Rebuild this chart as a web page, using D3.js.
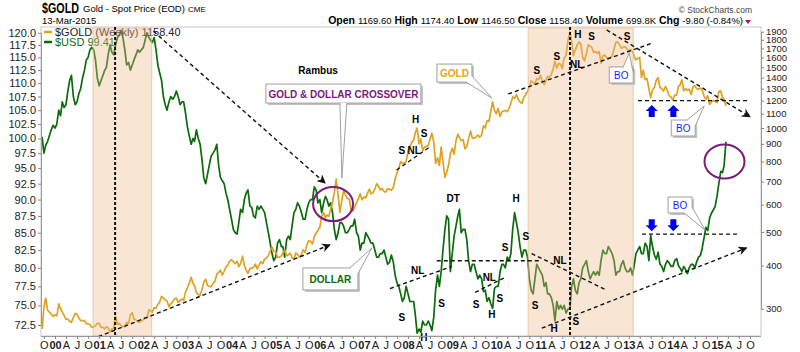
<!DOCTYPE html>
<html><head><meta charset="utf-8">
<script src="https://cdn.jsdelivr.net/npm/d3@7"></script>
<style>
body{margin:0;background:#fff;}
svg{display:block;font-family:"Liberation Sans",Arial,sans-serif;}
</style></head><body>
<svg id="chart" width="800" height="352"></svg>
<script>
// semi-monthly closes (1st & 16th), starting 16-Sep-1999
const usd = [
  100.3, 97.5, 98.8, 99.5, 100.5, 101.5, 102.3,
  101.8, 102.5, 105.0, 104.0, 106.5, 105.5, 106.0, 108.5, 110.5, 111.5, 107.5, 106.0, 106.5, 108.0, 109.0, 111.0, 112.5, 114.5, 115.0, 116.5, 117.0, 116.5, 114.5, 111.0,
  109.5, 110.5, 111.5, 112.5, 113.0, 115.5, 117.5, 116.0, 115.5, 117.5, 119.0, 119.5, 120.5, 119.0, 116.5, 113.5, 114.0, 112.5, 113.5, 114.5, 115.5, 116.5, 116.0, 116.5,
  117.0, 118.5, 120.0, 119.0, 118.5, 118.0, 119.0, 116.5, 113.5, 112.0, 110.5, 107.5, 106.0, 105.0, 106.5, 107.5, 107.0, 107.5, 108.5, 107.5, 106.0, 106.5, 106.5, 104.5,
  102.0, 100.5, 99.0, 100.0, 99.5, 101.5, 100.0, 99.0, 96.5, 93.5, 92.5, 94.0, 95.5, 97.0, 97.5, 98.0, 99.0, 95.5, 93.5, 93.0, 92.5, 91.0, 90.0, 88.5,
  87.0, 85.5, 85.0, 84.8, 86.5, 88.5, 88.0, 90.0, 91.0, 91.5, 89.0, 88.8, 87.5, 87.2, 89.0, 88.5, 89.0, 88.5, 88.0, 86.5, 85.0, 83.5, 82.0, 81.0,
  81.5, 83.5, 84.0, 83.0, 83.0, 81.5, 84.0, 84.5, 84.0, 86.0, 88.0, 88.5, 89.5, 89.0, 88.0, 87.0, 87.0, 88.5, 89.5, 90.0, 90.0, 92.0, 91.5, 89.5,
  90.0, 88.0, 89.5, 90.5, 90.0, 89.0, 89.5, 88.0, 85.5, 84.0, 85.0, 86.5, 86.5, 86.0, 85.0, 85.0, 85.5, 86.0, 86.0, 87.0, 85.0, 84.5, 82.5, 83.5,
  83.5, 85.0, 84.5, 84.0, 83.5, 83.5, 82.5, 81.5, 81.5, 82.0, 82.0, 82.5, 81.5, 80.5, 80.8, 81.8, 80.8, 79.0, 78.0, 77.5, 76.5, 75.5, 76.0, 77.5,
  76.5, 75.5, 75.5, 75.5, 73.8, 71.5, 72.0, 71.6, 73.0, 72.5, 72.5, 73.0, 72.5, 71.8, 73.5, 77.0, 79.0, 77.5, 79.5, 82.5, 85.5, 87.5, 87.0, 79.5,
  82.0, 84.5, 86.0, 87.5, 88.5, 85.0, 85.5, 85.5, 84.0, 81.0, 79.5, 80.5, 80.5, 79.5, 78.5, 79.0, 78.5, 76.8, 77.0, 75.5, 76.0, 75.2, 74.6, 77.2,
  77.5, 77.5, 79.5, 80.5, 80.5, 80.0, 81.5, 81.0, 82.0, 85.5, 88.0, 86.5, 85.0, 83.0, 81.5, 82.5, 82.5, 81.5, 78.5, 77.0, 76.5, 78.5, 80.5, 80.0,
  79.5, 79.0, 77.5, 78.0, 76.5, 76.5, 76.0, 75.0, 73.0, 75.5, 74.5, 75.0, 74.5, 75.0, 74.0, 74.5, 74.5, 77.5, 78.5, 77.0, 76.5, 78.0, 78.5, 80.0,
  80.5, 81.0, 79.5, 78.5, 79.0, 79.5, 79.0, 79.5, 79.0, 81.0, 82.5, 82.0, 82.0, 83.0, 82.5, 82.0, 81.0, 79.0, 79.5, 79.5, 80.5, 81.0, 80.0, 79.5,
  79.5, 80.0, 79.0, 80.5, 82.0, 82.5, 83.0, 82.0, 82.0, 83.5, 83.0, 81.0, 84.6, 83.0, 81.8, 81.2, 82.2, 80.5, 80.2, 79.5, 80.5, 81.0, 80.7, 80.2,
  80.2, 81.0, 81.3, 80.3, 80.0, 79.5, 80.2, 79.8, 79.2, 80.0, 80.5, 80.5, 80.0, 80.8, 81.5, 81.7, 82.8, 84.3, 85.8, 85.3, 87.2, 87.9, 88.4, 88.9,
  90.5, 92.5, 94.5, 94.3, 95.5, 99.41
];
const gold = [
  262, 302, 322, 297, 293, 290, 285,
  288, 286, 310, 300, 293, 287, 280, 280, 276, 274, 283, 291, 289, 282, 277, 277, 277, 272, 271, 270, 265, 266, 268, 272,
  272, 265, 265, 262, 266, 264, 257, 262, 264, 285, 270, 272, 268, 266, 266, 274, 272, 288, 292, 280, 278, 275, 274, 276,
  279, 283, 282, 298, 296, 293, 302, 301, 309, 313, 326, 322, 318, 316, 304, 310, 314, 320, 322, 313, 317, 320, 317, 335,
  345, 355, 370, 355, 350, 334, 330, 328, 340, 358, 365, 350, 348, 347, 355, 360, 377, 382, 388, 375, 385, 396, 400, 412,
  416, 410, 405, 412, 397, 405, 426, 400, 388, 380, 392, 393, 395, 404, 391, 402, 410, 405, 418, 420, 428, 440, 452, 440,
  438, 422, 423, 426, 435, 444, 427, 430, 434, 421, 418, 435, 430, 423, 430, 444, 436, 460, 472, 470, 462, 485, 496, 505,
  517, 556, 568, 550, 560, 555, 583, 610, 651, 712, 640, 570, 615, 660, 640, 625, 625, 580, 575, 590, 608, 625, 645, 620,
  632, 628, 650, 665, 645, 650, 665, 690, 680, 662, 668, 655, 652, 668, 665, 660, 673, 712, 740, 765, 800, 790, 790, 800,
  860, 880, 910, 920, 970, 1000, 900, 930, 860, 880, 885, 890, 930, 965, 910, 790, 820, 780, 880, 800, 720, 745, 780, 840,
  875, 840, 920, 960, 940, 920, 925, 870, 885, 930, 980, 935, 935, 940, 955, 940, 955, 1015, 1000, 1050, 1045, 1120, 1190, 1125,
  1100, 1140, 1080, 1115, 1120, 1125, 1115, 1140, 1180, 1230, 1220, 1250, 1210, 1190, 1180, 1225, 1250, 1275, 1315, 1370, 1355, 1340, 1390, 1380,
  1420, 1365, 1335, 1375, 1410, 1400, 1430, 1485, 1560, 1490, 1540, 1530, 1485, 1595, 1625, 1785, 1895, 1780, 1620, 1680, 1740, 1775, 1750, 1600,
  1565, 1645, 1740, 1725, 1710, 1655, 1665, 1645, 1665, 1540, 1620, 1625, 1600, 1590, 1600, 1615, 1690, 1770, 1775, 1745, 1700, 1715, 1720, 1695,
  1670, 1685, 1665, 1610, 1575, 1590, 1600, 1400, 1470, 1380, 1390, 1300, 1225, 1290, 1310, 1375, 1400, 1310, 1300, 1280, 1320, 1285, 1240, 1230,
  1205, 1245, 1245, 1320, 1330, 1380, 1280, 1300, 1285, 1295, 1250, 1315, 1325, 1300, 1295, 1305, 1285, 1235, 1210, 1240, 1170, 1190, 1200, 1195,
  1185, 1275, 1280, 1225, 1210, 1158.4
];
const usdTicks = [72.5, 75, 77.5, 80, 82.5, 85, 87.5, 90, 92.5, 95, 97.5, 100, 102.5, 105, 107.5, 110, 112.5, 115, 117.5, 120];
const goldTicks = [300, 400, 500, 600, 700, 800, 900, 1000, 1100, 1200, 1300, 1400, 1500, 1600, 1700, 1800, 1900];
const monthLetters = {0: null, 3: 'A', 6: 'J', 9: 'O'};

// annotations, in fractional year + axis value
const bands = [[2000.86, 2002.19], [2010.72, 2013.10]];
const vLines = [2001.36, 2011.67];
const trends = [
  {axis: 'u', a: [2002.23, 120.3], b: [2006.12, 92.6], arrow: true},
  {axis: 'g', a: [2000.98, 249], b: [2006.23, 459], arrow: true},
  {axis: 'g', a: [2007.74, 756], b: [2008.50, 883]},
  {axis: 'u', a: [2007.59, 77.2], b: [2008.99, 80.2]},
  {axis: 'u', a: [2008.65, 81.0], b: [2010.99, 81.0]},
  {axis: 'u', a: [2009.52, 76.7], b: [2010.20, 78.7]},
  {axis: 'u', a: [2010.80, 82.0], b: [2012.46, 77.1]},
  {axis: 'u', a: [2011.03, 72.1], b: [2015.67, 82.8], arrow: true},
  {axis: 'u', a: [2013.30, 84.8], b: [2015.48, 84.8]},
  {axis: 'g', a: [2010.27, 1255], b: [2013.56, 1766]},
  {axis: 'g', a: [2012.50, 1922], b: [2015.75, 1078], arrow: true},
  {axis: 'g', a: [2013.21, 1200], b: [2015.75, 1200]}
];
const patternLabels = [
  ['S', 2007.86, 'g', 864], ['NL', 2008.14, 'g', 864], ['H', 2008.17, 'g', 1062], ['S', 2008.36, 'g', 967],
  ['NL', 2008.22, 'u', 79.7], ['S', 2007.86, 'u', 73.5], ['H', 2008.36, 'u', 71.0], ['S', 2008.76, 'u', 75.3],
  ['DT', 2009.02, 'u', 90.2], ['NL', 2009.84, 'u', 78.8], ['S', 2009.54, 'u', 75.2], ['H', 2009.90, 'u', 73.9], ['S', 2010.08, 'u', 75.9],
  ['S', 2010.20, 'u', 83.0], ['S', 2010.67, 'u', 84.5], ['H', 2010.45, 'u', 90.2],
  ['NL', 2011.44, 'u', 81.1], ['S', 2010.88, 'u', 75.1], ['H', 2011.31, 'u', 72.1], ['S', 2011.80, 'u', 73.0],
  ['S', 2010.92, 'g', 1472], ['S', 2011.37, 'g', 1616], ['H', 2011.85, 'g', 1871], ['S', 2012.16, 'g', 1846], ['S', 2012.96, 'g', 1846], ['NL', 2011.82, 'g', 1532]
];
const circles = [[2006.30, 'u', 89.3], [2015.17, 'u', 96.1]];
const upArrows = [[2013.52, 'g', 1166], [2014.01, 'g', 1166]];
const downArrows = [[2013.52, 'u', 85.2], [2014.01, 'u', 85.2]];
const callouts = [
  {text: 'GOLD & DOLLAR CROSSOVER', color: '#7d1a7d', bold: true, tip: [2006.50, 'u', 93.4], box: [-76, -94, 155, 19], base: [[-2, -75], [5, -75]]},
  {text: 'DOLLAR', color: '#0b6b0b', bold: true, tip: [2007.18, 'u', 82.8], box: [-69, 20, 55, 22], base: [[-22, 20], [-14, 26]]},
  {text: 'GOLD', color: '#e5a21c', bold: true, tip: [2009.90, 'g', 1221], box: [-55, -34, 35, 18], base: [[-26, -16], [-20, -22]]},
  {text: 'BO', color: '#1d1dff', tip: [2013.01, 'g', 1649], box: [-20, 14, 24, 16], base: [[-6, 14], [4, 20]]},
  {text: 'BO', color: '#1d1dff', tip: [2014.71, 'g', 1158], box: [-33, 14, 24, 16], base: [[-17, 14], [-9, 20]]},
  {text: 'BO', color: '#1d1dff', tip: [2014.73, 'u', 85.4], box: [-37, -33, 24, 16], base: [[-21, -17], [-13, -23]]}
];

const svg = d3.select('#chart');
const L = 41, R = 761, T = 27, B = 336;

const dateAt = i => { const k = i + 1; return new Date(1999, 8 + Math.floor(k / 2), k % 2 ? 16 : 1); };
const yd = t => { const y = Math.floor(t), s = new Date(y, 0, 1), e = new Date(y + 1, 0, 1); return new Date(+s + (t - y) * (e - s)); };

const x = d3.scaleTime().domain([new Date(2000, 0, 1), new Date(2015, 0, 1)]).range([55, 717]);
const yU = d3.scaleLog().domain([72.5, 120]).range([325, 32.7]);
const yG = d3.scaleLog().domain([300, 1900]).range([308.7, 31.7]);
const yOf = (axis, v) => axis === 'g' ? yG(v) : yU(v);
const pt = (t, axis, v) => [x(yd(t)), yOf(axis, v)];

svg.append('rect').attr('width', 800).attr('height', 352).attr('fill', '#fff');
const defs = svg.append('defs');
defs.append('clipPath').attr('id', 'plot').append('rect').attr('x', L).attr('y', T).attr('width', R - L).attr('height', B - T);
defs.append('marker').attr('id', 'ah').attr('viewBox', '0 0 10 10').attr('refX', 9).attr('refY', 5)
  .attr('markerWidth', 9).attr('markerHeight', 9).attr('markerUnits', 'userSpaceOnUse').attr('orient', 'auto')
  .append('path').attr('d', 'M0,0 L10,5 L0,10 L3,5 Z').attr('fill', '#111');

// Header
const head = svg.append('g');
head.append('text').attr('x', 42).attr('y', 13).attr('font-size', 14).attr('font-weight', 'bold').attr('textLength', 37).attr('lengthAdjust', 'spacingAndGlyphs').text('$GOLD');
head.append('text').attr('x', 83).attr('y', 12).attr('font-size', 9.5).text('Gold - Spot Price (EOD)');
head.append('text').attr('x', 188).attr('y', 12).attr('font-size', 8).text('CME');
head.append('text').attr('x', 42).attr('y', 24).attr('font-size', 9.5).text('13-Mar-2015');
head.append('text').attr('x', 752).attr('y', 13).attr('font-size', 8.5).attr('text-anchor', 'end').attr('fill', '#444').text('© StockCharts.com');
const info = [['Open', '1169.60'], ['High', '1174.40'], ['Low', '1146.50'], ['Close', '1158.40'], ['Volume', '699.8K'], ['Chg', '-9.80 (-0.84%)']];
const infoT = head.append('text').attr('x', 743).attr('y', 24).attr('font-size', 9.5).attr('text-anchor', 'end');
info.forEach(([k, v], i) => {
  infoT.append('tspan').attr('font-weight', 'bold').attr('font-size', 10.5).text((i ? '  ' : '') + k + ' ');
  infoT.append('tspan').text(v);
});
head.append('path').attr('d', 'M745,20 L751,20 L748,24 Z').attr('fill', '#a0185a');

// frame
svg.append('rect').attr('x', L).attr('y', T).attr('width', R - L).attr('height', B - T)
  .attr('fill', 'none').attr('stroke', '#c8c8c8');

// Series
const usdData = usd.map((v, i) => ({date: dateAt(i), v}));
const goldData = gold.map((v, i) => ({date: dateAt(i), v}));
const plot = svg.append('g').attr('clip-path', 'url(#plot)');
plot.append('path').datum(usdData).attr('fill', 'none').attr('stroke', '#0b6b0b').attr('stroke-width', 1.7)
  .attr('stroke-linejoin', 'round').attr('d', d3.line().x(d => x(d.date)).y(d => yU(d.v)));
plot.append('path').datum(goldData).attr('fill', 'none').attr('stroke', '#dea21f').attr('stroke-width', 1.7)
  .attr('stroke-linejoin', 'round').attr('d', d3.line().x(d => x(d.date)).y(d => yG(d.v)));

// Legend
const leg = svg.append('g').attr('font-size', 11);
leg.append('line').attr('x1', 44).attr('x2', 52).attr('y1', 32).attr('y2', 32).attr('stroke', '#dea21f').attr('stroke-width', 2.5);
leg.append('text').attr('x', 55).attr('y', 36).attr('fill', '#222').text('$GOLD (Weekly) 1158.40');
leg.append('line').attr('x1', 44).attr('x2', 52).attr('y1', 42).attr('y2', 42).attr('stroke', '#0b6b0b').attr('stroke-width', 2.5);
leg.append('text').attr('x', 55).attr('y', 46).attr('fill', '#0b6b0b').text('$USD 99.41');

// Shaded periods (translucent, over the lines)
svg.append('g').selectAll('rect').data(bands).join('rect')
  .attr('x', d => x(yd(d[0]))).attr('y', T + 1)
  .attr('width', d => x(yd(d[1])) - x(yd(d[0]))).attr('height', B - T - 1)
  .attr('fill', '#eeb888').attr('fill-opacity', 0.36)
  .attr('stroke', '#eeb888').attr('stroke-opacity', 0.7);

// Vertical dashed lines
svg.append('g').selectAll('line').data(vLines).join('line')
  .attr('x1', d => x(yd(d))).attr('x2', d => x(yd(d))).attr('y1', T).attr('y2', B)
  .attr('stroke', '#111').attr('stroke-width', 2).attr('stroke-dasharray', '3,2');

// Trend lines
svg.append('g').selectAll('line').data(trends).join('line')
  .attr('x1', d => pt(d.a[0], d.axis, d.a[1])[0]).attr('y1', d => pt(d.a[0], d.axis, d.a[1])[1])
  .attr('x2', d => pt(d.b[0], d.axis, d.b[1])[0]).attr('y2', d => pt(d.b[0], d.axis, d.b[1])[1])
  .attr('stroke', '#111').attr('stroke-width', 1.4).attr('stroke-dasharray', '4,3')
  .attr('marker-end', d => d.arrow ? 'url(#ah)' : null);

// Purple circles
svg.append('g').selectAll('ellipse').data(circles).join('ellipse')
  .attr('cx', d => pt(d[0], d[1], d[2])[0]).attr('cy', d => pt(d[0], d[1], d[2])[1])
  .attr('rx', 20).attr('ry', 17).attr('fill', 'none').attr('stroke', '#7d1a7d').attr('stroke-width', 2);

// Pattern labels
svg.append('g').attr('font-size', 10).attr('font-weight', 'bold').attr('text-anchor', 'middle')
  .selectAll('text').data(patternLabels).join('text')
  .attr('x', d => pt(d[1], d[2], d[3])[0]).attr('y', d => pt(d[1], d[2], d[3])[1] + 4).text(d => d[0]);

svg.append('text').attr('x', pt(2005.96, 'u', 112.5)[0]).attr('y', pt(2005.96, 'u', 112.5)[1] + 4)
  .attr('text-anchor', 'middle').attr('font-size', 10).attr('font-weight', 'bold').text('Rambus');

// Blue block arrows
const upShape = 'M0,0 L6,6 L3,6 L3,12 L-3,12 L-3,6 L-6,6 Z';
svg.append('g').selectAll('path').data(upArrows).join('path')
  .attr('transform', d => `translate(${pt(d[0], d[1], d[2])})`).attr('d', upShape).attr('fill', '#0000ee');
svg.append('g').selectAll('path').data(downArrows).join('path')
  .attr('transform', d => `translate(${pt(d[0], d[1], d[2])}) scale(1,-1)`).attr('d', upShape).attr('fill', '#0000ee');

// Callouts
callouts.forEach(c => {
  const [tx, ty] = pt(c.tip[0], c.tip[1], c.tip[2]);
  const [bx, by, bw, bh] = c.box;
  const g = svg.append('g');
  g.append('rect').attr('x', tx + bx + 2).attr('y', ty + by + 2).attr('width', bw).attr('height', bh).attr('fill', '#c4c4c4');
  g.append('rect').attr('x', tx + bx).attr('y', ty + by).attr('width', bw).attr('height', bh)
    .attr('fill', '#fff').attr('stroke', '#a0a0a0');
  g.append('path').attr('d', `M${tx + c.base[0][0]},${ty + c.base[0][1]} L${tx},${ty} L${tx + c.base[1][0]},${ty + c.base[1][1]}`)
    .attr('fill', '#fff').attr('stroke', '#a0a0a0');
  g.append('text').attr('x', tx + bx + bw / 2).attr('y', ty + by + bh / 2 + 4).attr('text-anchor', 'middle')
    .attr('font-size', 10).attr('font-weight', c.bold ? 'bold' : 'normal').attr('fill', c.color).text(c.text);
});

// Axes
const styleAxis = size => g => {
  g.selectAll('.domain').attr('stroke', '#999');
  g.selectAll('.tick line').attr('stroke', '#888');
  g.selectAll('.tick text').attr('fill', '#222').attr('font-size', size).attr('font-family', '"Liberation Sans",Arial,sans-serif');
};
svg.append('g').attr('transform', `translate(${L},0)`)
  .call(d3.axisLeft(yU).tickValues(usdTicks).tickFormat(d3.format('.1f')).tickSize(3).tickPadding(2).tickSizeOuter(0))
  .call(styleAxis(11));
svg.append('g').attr('transform', `translate(${R},0)`)
  .call(d3.axisRight(yG).tickValues(goldTicks).tickFormat(d3.format('d')).tickSize(3).tickPadding(2).tickSizeOuter(0))
  .call(styleAxis(9.5));

const quarters = d3.timeMonth.every(3).range(new Date(1999, 9, 1), new Date(2015, 10, 1));
const xAxis = svg.append('g').attr('transform', `translate(0,${B})`)
  .call(d3.axisBottom(x).tickValues(quarters).tickSize(3).tickPadding(2).tickSizeOuter(0)
    .tickFormat(d => d.getMonth() === 0 ? d3.timeFormat('%y')(d) : monthLetters[d.getMonth()]))
  .call(styleAxis(11));
xAxis.select('.domain').attr('d', `M${L},0.5H${R}`);
xAxis.selectAll('.tick text').attr('font-weight', d => d.getMonth() === 0 ? 'bold' : 'normal');
</script>
</body></html>
